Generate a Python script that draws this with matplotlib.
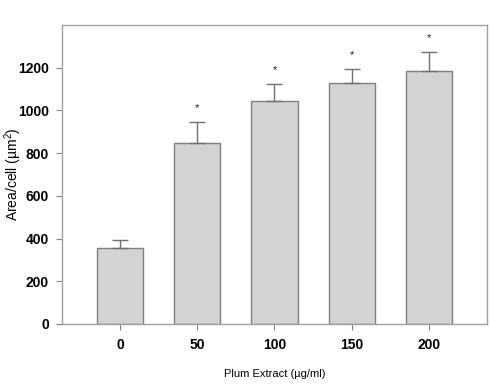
"""Plum extract dose vs. area per cell, bar chart with SD error bars."""
import matplotlib
matplotlib.use("Agg")
import matplotlib.pyplot as plt

plt.rcParams["font.family"] = ["Liberation Sans", "DejaVu Sans"]
plt.rcParams["mathtext.default"] = "regular"

doses = ["0", "50", "100", "150", "200"]
area = [356, 850, 1045, 1130, 1183]
err = [38, 97, 80, 65, 92]
signif = ["", "*", "*", "*", "*"]

fig = plt.figure(figsize=(4.9, 3.92), dpi=100)
ax = fig.add_axes([0.1265, 0.1735, 0.8674, 0.7625])

xs = list(range(len(doses)))
ax.bar(xs, area, width=0.6, color="#d3d3d3", edgecolor="#808080", linewidth=1.0, zorder=2)
ax.errorbar(xs, area, yerr=[[0] * len(err), err], fmt="none", ecolor="#707070",
            elinewidth=1.0, capsize=6, capthick=1.0, zorder=3)
for x, y, e, s in zip(xs, area, err, signif):
    if s:
        ax.annotate(s, (x, y + e), textcoords="offset points", xytext=(0, 6),
                    ha="center", va="bottom", fontsize=8, color="#202020")

ax.set_xlim(-0.75, 4.75)
ax.set_ylim(0, 1400)
ax.set_yticks([0, 200, 400, 600, 800, 1000, 1200])
ax.set_xticks(xs)
ax.set_xticklabels(doses)
for lab in ax.get_xticklabels() + ax.get_yticklabels():
    lab.set_fontweight("bold")
    lab.set_fontsize(10)
ax.tick_params(axis="y", direction="out", length=4, width=0.8, color="#808080", pad=5.5)
ax.tick_params(axis="x", direction="out", length=4, width=0.8, color="#808080", pad=6)

for side in ["left", "bottom", "top", "right"]:
    ax.spines[side].set_color("#a0a0a0")
    ax.spines[side].set_linewidth(1.0)

ax.set_ylabel("Area/cell (\u00b5m$^{2}$)", fontsize=10)
ax.yaxis.set_label_coords(-0.09, 0.5)
ax.set_xlabel("Plum Extract (\u00b5g/ml)", fontsize=8, labelpad=12)

fig.savefig("out.png", dpi=100)
